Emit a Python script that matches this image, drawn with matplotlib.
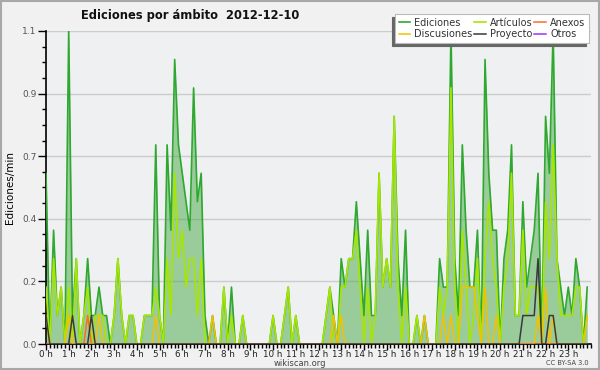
#!/usr/bin/env python3
import numpy as np
import matplotlib
matplotlib.use('Agg')
from matplotlib import pyplot as plt
from matplotlib.patches import Rectangle

# Globals
titleText = 'Ediciones por ámbito  2012-12-10'
hourLabels = ['%d h' % h for h in range(24)]

# edits per 10 minute bin (144 bins), converted to edits/min below
ediciones = [6, 0, 4, 1, 2, 0, 11, 1, 3, 0,
             1, 3, 1, 1, 2, 1, 1, 0, 1, 3,
             1, 0, 1, 1, 0, 0, 1, 1, 1, 7,
             1, 0, 7, 4, 10, 7, 6, 5, 4, 9,
             5, 6, 1, 0, 1, 0, 0, 2, 0, 2,
             0, 0, 1, 0, 0, 0, 0, 0, 0, 0,
             1, 0, 0, 1, 2, 0, 1, 0, 0, 0,
             0, 0, 0, 0, 1, 2, 1, 0, 3, 2,
             3, 3, 5, 3, 1, 4, 1, 1, 6, 2,
             3, 2, 8, 3, 1, 4, 0, 0, 1, 0,
             1, 0, 0, 0, 3, 2, 2, 11, 3, 1,
             7, 4, 2, 2, 4, 0, 10, 6, 4, 4,
             0, 3, 4, 7, 1, 1, 5, 2, 3, 4,
             6, 0, 8, 6, 11, 3, 2, 1, 2, 1,
             3, 2, 0, 2]

articulos = [2, 0, 3, 1, 2, 0, 2, 0, 3, 0,
             1, 2, 0, 1, 1, 1, 0, 0, 1, 3,
             1, 0, 1, 1, 0, 0, 1, 1, 1, 2,
             1, 0, 3, 1, 6, 3, 4, 2, 3, 3,
             1, 3, 0, 0, 0, 0, 0, 2, 0, 1,
             0, 0, 1, 0, 0, 0, 0, 0, 0, 0,
             1, 0, 0, 1, 2, 0, 1, 0, 0, 0,
             0, 0, 0, 0, 1, 2, 0, 0, 2, 2,
             3, 3, 4, 2, 0, 2, 0, 1, 6, 2,
             3, 2, 8, 2, 0, 2, 0, 0, 1, 0,
             0, 0, 0, 0, 2, 1, 2, 9, 2, 0,
             4, 2, 0, 1, 3, 0, 3, 5, 3, 2,
             0, 2, 3, 6, 1, 1, 4, 1, 2, 2,
             2, 0, 5, 3, 7, 3, 1, 1, 1, 1,
             2, 2, 0, 1]

discusiones = np.zeros(144)
for i, v in [(0, 1), (6, 1), (14, 1), (29, 1), (44, 1), (76, 1), (78, 1),
             (100, 1), (105, 1), (107, 1), (110, 2), (111, 2), (112, 2),
             (113, 2), (114, 1), (116, 2), (119, 1), (130, 1), (132, 2),
             (134, 1), (143, 1)]:
    discusiones[i] = v

anexos = np.zeros(144)
anexos[11] = 1

proyecto = np.zeros(144)
for i, v in [(0, 1), (7, 1), (12, 1), (126, 1), (127, 1), (128, 1),
             (129, 1), (130, 3), (133, 1), (134, 1)]:
    proyecto[i] = v

otros = np.zeros(144)


def main():
    hours = np.arange(144) / 6.0

    fig = plt.figure(figsize=(6, 3.7), dpi=100, facecolor='#f1f1f1')
    ax = fig.add_axes([46 / 600, 1 - 344 / 370, 545 / 600, 313 / 370])
    ax.set_facecolor('#eef0f1')

    # grey frame round the whole picture
    fig.patches.append(Rectangle((0.001, 0.002), 0.997, 0.995, transform=fig.transFigure,
                                 fill=False, edgecolor='#a8a8a8', lw=1.5))

    tot = np.array(ediciones) / 10.0
    ax.fill_between(hours, tot, color='#47a847', alpha=0.5, lw=0, zorder=2)
    ax.plot(hours, otros, color='#9933ff', lw=1.1, zorder=1)
    l1, = ax.plot(hours, tot, color='#2fa82f', lw=1.2, zorder=3)
    l2, = ax.plot(hours, np.array(articulos) / 10.0, color='#a6e600', lw=1.2, zorder=4)
    l4, = ax.plot(hours, discusiones / 10.0, color='#f2c200', lw=1.1, zorder=5)
    l3, = ax.plot(hours, anexos / 10.0, color='#ff6a2a', lw=1.1, zorder=5)
    l5, = ax.plot(hours, proyecto / 10.0, color='#3a3a3a', lw=1.1, zorder=6)
    l6, = ax.plot([], [], color='#9933ff', lw=1.1)

    # axes
    ax.set_xlim(0, 24)
    ax.set_ylim(0, 1.1)
    yt = np.linspace(0, 1.1, 6)
    ax.set_yticks(yt)
    ax.set_yticklabels(['%.1f' % v for v in yt], fontsize=6.5, color='#555555')
    ax.set_yticks(np.arange(0, 1.1001, 0.055), minor=True)
    ax.set_xticks(range(24))
    ax.set_xticklabels(hourLabels, fontsize=6.3, color='#222222')
    ax.set_xticks(np.arange(0, 24.01, 1 / 6.0), minor=True)
    ax.tick_params(axis='y', which='major', length=6, width=1, pad=1)
    ax.tick_params(axis='y', which='minor', length=3, width=1)
    ax.tick_params(axis='x', which='major', length=4, width=1, pad=0.5)
    ax.tick_params(axis='x', which='minor', length=3, width=1)
    ax.grid(axis='y', which='major', color='#cccccc', lw=1)
    ax.set_axisbelow(True)
    for s in ['top', 'right']:
        ax.spines[s].set_visible(False)
    ax.spines['left'].set_linewidth(1.2)
    ax.spines['bottom'].set_linewidth(1.2)
    ax.set_ylabel('Ediciones/min', fontsize=7.5, labelpad=5)

    fig.text(190 / 600, 1 - 15 / 370, titleText, ha='center', va='center',
             fontsize=8.3, fontweight='bold', color='#111111')
    fig.text(300 / 600, 1 - 363 / 370, 'wikiscan.org', ha='center', va='center',
             fontsize=6, color='#444444')
    fig.text(589 / 600, 1 - 363 / 370, 'CC BY-SA 3.0', ha='right', va='center',
             fontsize=4.8, color='#444444')

    leg = fig.legend([l1, l4, l2, l5, l3, l6],
                     ['Ediciones', 'Discusiones', 'Artículos', 'Proyecto', 'Anexos', 'Otros'],
                     ncol=3, loc='upper right', bbox_to_anchor=(594 / 600, 1 - 9 / 370),
                     fontsize=7, frameon=True, fancybox=False, framealpha=1,
                     edgecolor='#bbbbbb', handlelength=1.2, handletextpad=0.4,
                     columnspacing=0.2, labelspacing=0.15, borderpad=0.4,
                     shadow={'ox': -2, 'oy': -2, 'facecolor': '#666666',
                             'edgecolor': '#666666', 'alpha': 1})
    leg.get_frame().set_linewidth(0.8)
    for t in leg.get_texts():
        t.set_color('#333333')

    plt.savefig('out.png', dpi=100, facecolor=fig.get_facecolor())


if __name__ == "__main__":
    main()
